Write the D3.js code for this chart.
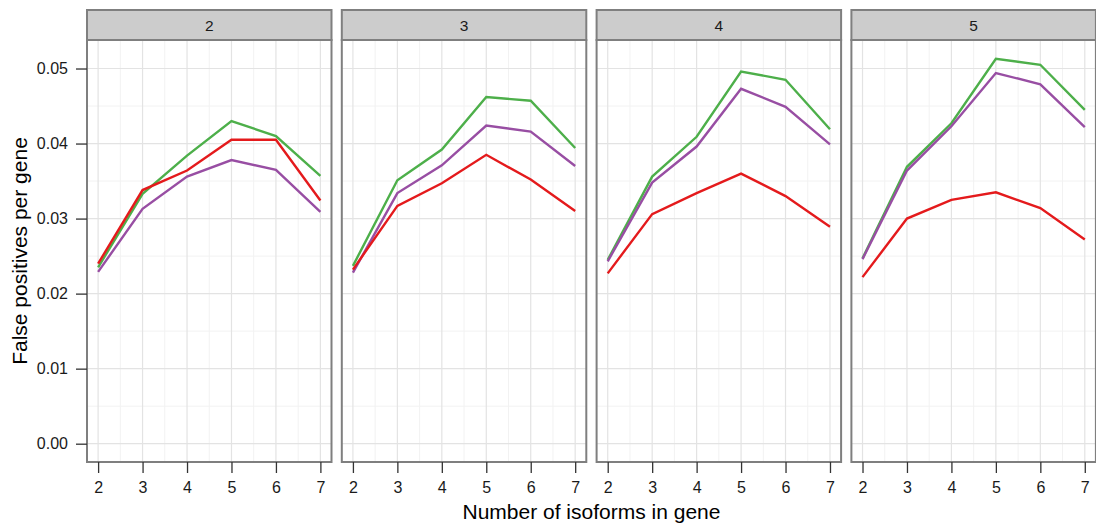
<!DOCTYPE html>
<html><head><meta charset="utf-8">
<script src="https://cdn.jsdelivr.net/npm/d3@7"></script>
<style>body{margin:0;background:#fff;} text{font-family:"Liberation Sans",Arial,sans-serif;}</style>
</head><body><svg id="c" width="1096" height="527"></svg>
<script>
const isoforms = [2,3,4,5,6,7];
const facets = ["2","3","4","5"];
const seriesColors = ["#4daf4a","#984ea3","#e41a1c"];
// values per facet, per series (green, purple, red)
const green = [
  [0.0235,0.0333,0.0384,0.0430,0.0410,0.0357],
  [0.0237,0.0351,0.0392,0.0462,0.0457,0.0394],
  [0.0245,0.0356,0.0409,0.0496,0.0485,0.0419],
  [0.0247,0.0369,0.0427,0.0513,0.0505,0.0445]
];
const purple = [
  [0.0229,0.0313,0.0356,0.0378,0.0365,0.0309],
  [0.0228,0.0334,0.0371,0.0424,0.0416,0.0370],
  [0.0243,0.0348,0.0396,0.0473,0.0449,0.0399],
  [0.0246,0.0364,0.0423,0.0494,0.0479,0.0422]
];
const red = [
  [0.0240,0.0338,0.0364,0.0405,0.0405,0.0324],
  [0.0232,0.0317,0.0347,0.0385,0.0352,0.0310],
  [0.0227,0.0306,0.0334,0.0360,0.0330,0.0289],
  [0.0222,0.0300,0.0325,0.0335,0.0314,0.0272]
];
const yTicks = [0,0.01,0.02,0.03,0.04,0.05];
const yMinor = [0.005,0.015,0.025,0.035,0.045];
const xMinor = [2.5,3.5,4.5,5.5,6.5];

const svg = d3.select("#c");
const panelW = 244.5, step = 254.8, left0 = 87, stripTop = 10, stripH = 30, plotTop = 40, plotH = 422;
const x = d3.scaleLinear().domain([1.75,7.25]).range([0,panelW]);
const y = d3.scaleLinear().domain([-0.00244,0.0538]).range([plotH,0]);
const line = d3.line().x((d,i)=>x(isoforms[i])).y(d=>y(d));
const FF = "Liberation Sans, Arial, sans-serif";

facets.forEach((f,fi)=>{
  const g = svg.append("g").attr("transform",`translate(${left0+fi*step},0)`);
  // strip
  g.append("rect").attr("x",0).attr("y",stripTop).attr("width",panelW).attr("height",stripH)
    .attr("fill","#cccccc").attr("stroke","#7f7f7f").attr("stroke-width",2);
  g.append("text").attr("x",panelW/2).attr("y",stripTop+stripH/2).attr("dy","0.36em")
    .attr("text-anchor","middle").style("font-size","15.5px").attr("fill","#1a1a1a").text(f);
  const p = g.append("g").attr("transform",`translate(0,${plotTop})`);
  p.append("rect").attr("width",panelW).attr("height",plotH).attr("fill","#fff");
  // minor grid
  p.selectAll(".ym").data(yMinor).join("line").attr("x1",0).attr("x2",panelW)
    .attr("y1",d=>y(d)).attr("y2",d=>y(d)).attr("stroke","#f2f2f2").attr("stroke-width",1);
  p.selectAll(".xm").data(xMinor).join("line").attr("y1",0).attr("y2",plotH)
    .attr("x1",d=>x(d)).attr("x2",d=>x(d)).attr("stroke","#f2f2f2").attr("stroke-width",1);
  // major grid
  p.selectAll(".yM").data(yTicks).join("line").attr("x1",0).attr("x2",panelW)
    .attr("y1",d=>y(d)).attr("y2",d=>y(d)).attr("stroke","#e3e3e3").attr("stroke-width",1.2);
  p.selectAll(".xM").data(isoforms).join("line").attr("y1",0).attr("y2",plotH)
    .attr("x1",d=>x(d)).attr("x2",d=>x(d)).attr("stroke","#e3e3e3").attr("stroke-width",1.2);
  // lines
  [green[fi],purple[fi],red[fi]].forEach((s,si)=>{
    p.append("path").datum(s).attr("d",line).attr("fill","none")
      .attr("stroke",seriesColors[si]).attr("stroke-width",2.4);
  });
  p.append("rect").attr("width",panelW).attr("height",plotH).attr("fill","none")
    .attr("stroke","#7f7f7f").attr("stroke-width",2);
  // x axis
  const xa = p.append("g").attr("transform",`translate(0,${plotH})`)
    .call(d3.axisBottom(x).tickValues(isoforms).tickFormat(d3.format("d")).tickSize(11).tickPadding(9));
  xa.attr("font-size",null).attr("font-family",null);
  xa.select(".domain").remove();
  xa.selectAll("line").attr("stroke","#333").attr("stroke-width",1.3);
  xa.selectAll("text").style("font-size","16px").attr("fill","#1a1a1a").style("font-family",FF);
  if(fi===0){
    const ya = p.append("g").call(d3.axisLeft(y).tickValues(yTicks).tickFormat(d3.format(".2f")).tickSize(11).tickPadding(8));
    ya.attr("font-size",null).attr("font-family",null);
    ya.select(".domain").remove();
    ya.selectAll("line").attr("stroke","#333").attr("stroke-width",1.3);
    ya.selectAll("text").style("font-size","16px").attr("fill","#1a1a1a").style("font-family",FF);
  }
});
svg.append("text").attr("x",(left0+left0+3*step+panelW)/2).attr("y",519).attr("text-anchor","middle")
  .style("font-size","21px").attr("fill","#000").text("Number of isoforms in gene");
svg.append("text").attr("transform",`translate(27,${plotTop+plotH/2}) rotate(-90)`).attr("text-anchor","middle")
  .style("font-size","21px").attr("fill","#000").text("False positives per gene");
</script></body></html>
